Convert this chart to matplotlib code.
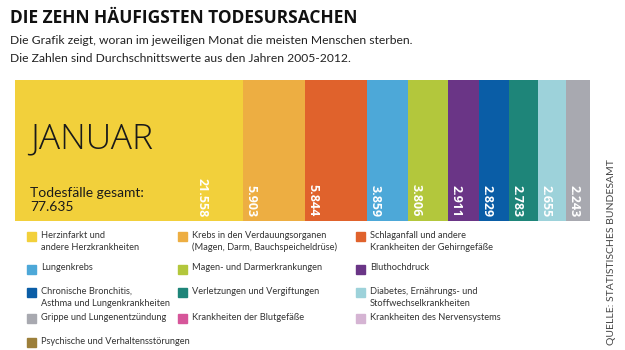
import matplotlib.pyplot as plt
from matplotlib.patches import Rectangle

plt.rcParams['font.family'] = ['Lato', 'DejaVu Sans']

# Januar, Todesfaelle nach Ursache
values = [21558, 5903, 5844, 3859, 3806, 2911, 2829, 2783, 2655, 2243]
value_labels = ['21.558', '5.903', '5.844', '3.859', '3.806', '2.911', '2.829', '2.783', '2.655', '2.243']
colors = ['#F2D03B', '#EDAE42', '#E0622C', '#4DA8D8', '#B3C73C', '#6A3586',
          '#0A5DA6', '#1E8579', '#9DD2DA', '#A8A9B0']

legend_labels = ['Herzinfarkt und\nandere Herzkrankheiten',
                 'Krebs in den Verdauungsorganen\n(Magen, Darm, Bauchspeicheldrüse)',
                 'Schlaganfall und andere\nKrankheiten der Gehirngefäße',
                 'Lungenkrebs',
                 'Magen- und Darmerkrankungen',
                 'Bluthochdruck',
                 'Chronische Bronchitis,\nAsthma und Lungenkrankheiten',
                 'Verletzungen und Vergiftungen',
                 'Diabetes, Ernährungs- und\nStoffwechselkrankheiten',
                 'Grippe und Lungenentzündung',
                 'Krankheiten der Blutgefäße',
                 'Krankheiten des Nervensystems',
                 'Psychische und Verhaltensstörungen']
legend_colors = colors + ['#D6569A', '#D5B4D3', '#9C7F3A']

W, H = 625, 350
fig = plt.figure(figsize=(6.25, 3.5), dpi=100)

def fx(px):
    return px / W

def fy(py):
    return 1 - py / H

# Titel
fig.text(fx(10), fy(18), 'DIE ZEHN HÄUFIGSTEN TODESURSACHEN', fontsize=12.5,
         fontweight='bold', color='#111111', va='center', ha='left',
         family=['Open Sans', 'DejaVu Sans'])
fig.text(fx(10), fy(40), 'Die Grafik zeigt, woran im jeweiligen Monat die meisten Menschen sterben.',
         fontsize=8.7, color='#222222', va='center', ha='left')
fig.text(fx(10), fy(58), 'Die Zahlen sind Durchschnittswerte aus den Jahren 2005-2012.',
         fontsize=8.7, color='#222222', va='center', ha='left')

# gestapelter Balken
ax = fig.add_axes([fx(15), fy(221), fx(575), (221 - 80) / H])
total = sum(values)
left = 0
for i, v in enumerate(values):
    ax.barh(0.5, v, left=left, height=1, color=colors[i], edgecolor='none')
    if i == 0:
        xpos = left + v * 0.82
    else:
        xpos = left + total * 0.014
    ax.text(xpos, 0.03, value_labels[i], rotation=270, color='white', fontsize=9,
            fontweight='bold', ha='center', va='bottom',
            family=['Open Sans', 'DejaVu Sans'])
    left += v
ax.set_xlim(0, total)
ax.set_ylim(0, 1)
ax.axis('off')

ax.text(total * 0.026, 0.58, 'JANUAR', fontsize=25.5, fontweight='light',
        color='#1a1a1a', ha='left', va='center',
        family=['Open Sans', 'DejaVu Sans'])
ax.text(total * 0.026, 0.15, 'Todesfälle gesamt:\n77.635', fontsize=10,
        color='#1a1a1a', ha='left', va='center', linespacing=1.2)

# Legende
col_x = [27, 178, 356]
row_y = [236, 269, 292, 318, 342]
for i, lab in enumerate(legend_labels):
    c = i % 3
    r = i // 3
    x0 = col_x[c]
    y0 = row_y[r]
    fig.patches.append(Rectangle((fx(x0), fy(y0 + 4.5)), fx(9), 9 / H,
                                 transform=fig.transFigure, color=legend_colors[i]))
    fig.text(fx(x0 + 14), fy(y0 - 5.5), lab, fontsize=6.7, color='#333333',
             ha='left', va='top', linespacing=1.45)

fig.text(fx(612), fy(252), 'QUELLE: STATISTISCHES BUNDESAMT', rotation=90,
         fontsize=7.5, color='#444444', ha='center', va='center')

fig.savefig('out.png', dpi=100)
